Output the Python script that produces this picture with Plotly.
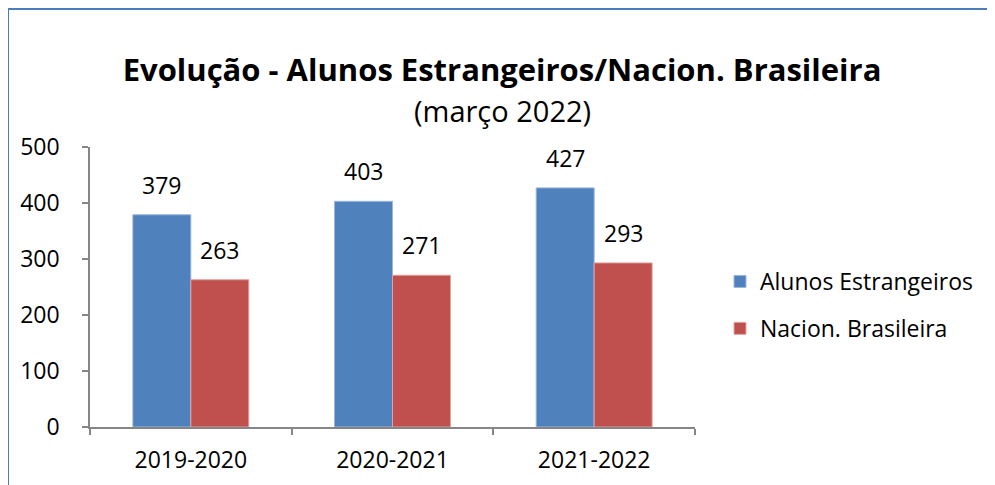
import plotly.graph_objects as go

categories = ["2019-2020", "2020-2021", "2021-2022"]
estrangeiros = [379, 403, 427]
brasileira = [263, 271, 293]
series_names = ["Alunos Estrangeiros", "Nacion. Brasileira"]
y_ticks = [0, 100, 200, 300, 400, 500]

# the page body adds an 8px offset; targets below are in screen pixels
OFF = 8
W, H = 995, 485
ML, MT = 90 - OFF, 147 - OFF
PW, PH = 605, 280
MR = W - ML - PW
MB = H - MT - PH

FONT = "'Open Sans', sans-serif"
BLUE = "#4F81BD"
RED = "#C0504D"
AXIS = "#868686"


def px_x(sx):
    return (sx - OFF - ML) / PW


def px_y(sy):
    return (MT + PH - (sy - OFF)) / PH


fig = go.Figure()
fig.add_trace(go.Bar(x=categories, y=estrangeiros, name=series_names[0],
                     marker=dict(color=BLUE, line=dict(color="#9BB7DB", width=1)),
                     legendgroup="a"))
fig.add_trace(go.Bar(x=categories, y=brasileira, name=series_names[1],
                     marker=dict(color=RED, line=dict(color="#E0A3A1", width=1)),
                     legendgroup="b"))

bargap = 0.425
cat_px = PW / len(categories)
bar_px = cat_px * (1 - bargap) / 2

for vals, sh in ((estrangeiros, -bar_px / 2), (brasileira, bar_px / 2)):
    for c, v in zip(categories, vals):
        fig.add_annotation(x=c, y=v, xref="x", yref="y", text=str(v),
                           showarrow=False, xshift=sh, yshift=12,
                           yanchor="bottom", font=dict(size=23, color="black", family=FONT))

fig.add_annotation(x=px_x(502), y=px_y(110), xref="paper", yref="paper",
                   text="(março 2022)", showarrow=False, xanchor="center", yanchor="middle",
                   font=dict(size=29, color="black", family=FONT))

# outer frame (partially cropped by the page edges)
fig.add_shape(type="rect", xref="paper", yref="paper",
              x0=px_x(7.5), x1=px_x(W + 30),
              y0=px_y(H + 30), y1=px_y(8.5),
              line=dict(color="#4A7EBB", width=3), layer="below")

fig.update_layout(
    width=W, height=H,
    margin=dict(l=ML, r=MR, t=MT, b=MB),
    paper_bgcolor="white", plot_bgcolor="white",
    barmode="group", bargap=bargap, bargroupgap=0,
    title=dict(text="<b>Evolução - Alunos Estrangeiros/Nacion. Brasileira</b>",
               x=(502 - OFF) / W, xanchor="center", y=1 - (70 - OFF) / H, yanchor="middle",
               font=dict(size=31, color="black", family=FONT)),
    font=dict(family=FONT, size=23, color="black"),
    showlegend=True,
    legend=dict(x=px_x(720), xanchor="left", y=px_y(305), yanchor="middle",
                font=dict(size=23, color="black", family=FONT),
                tracegroupgap=14, traceorder="grouped", bgcolor="rgba(0,0,0,0)"),
    xaxis=dict(showline=True, linecolor=AXIS, linewidth=1.5, ticks="outside",
               tickson="boundaries", ticklen=6, tickcolor=AXIS, tickwidth=1.5,
               showgrid=False, tickfont=dict(size=23, family=FONT, color="black"),
               ticklabelstandoff=12),
    yaxis=dict(range=[0, 500], tickvals=y_ticks, showline=True, linecolor=AXIS,
               linewidth=1.5, ticks="outside", ticklen=6, tickcolor=AXIS, tickwidth=1.5,
               showgrid=False, zeroline=False,
               tickfont=dict(size=23, family=FONT, color="black"),
               ticklabelstandoff=18),
)

fig.write_html("out.html")
